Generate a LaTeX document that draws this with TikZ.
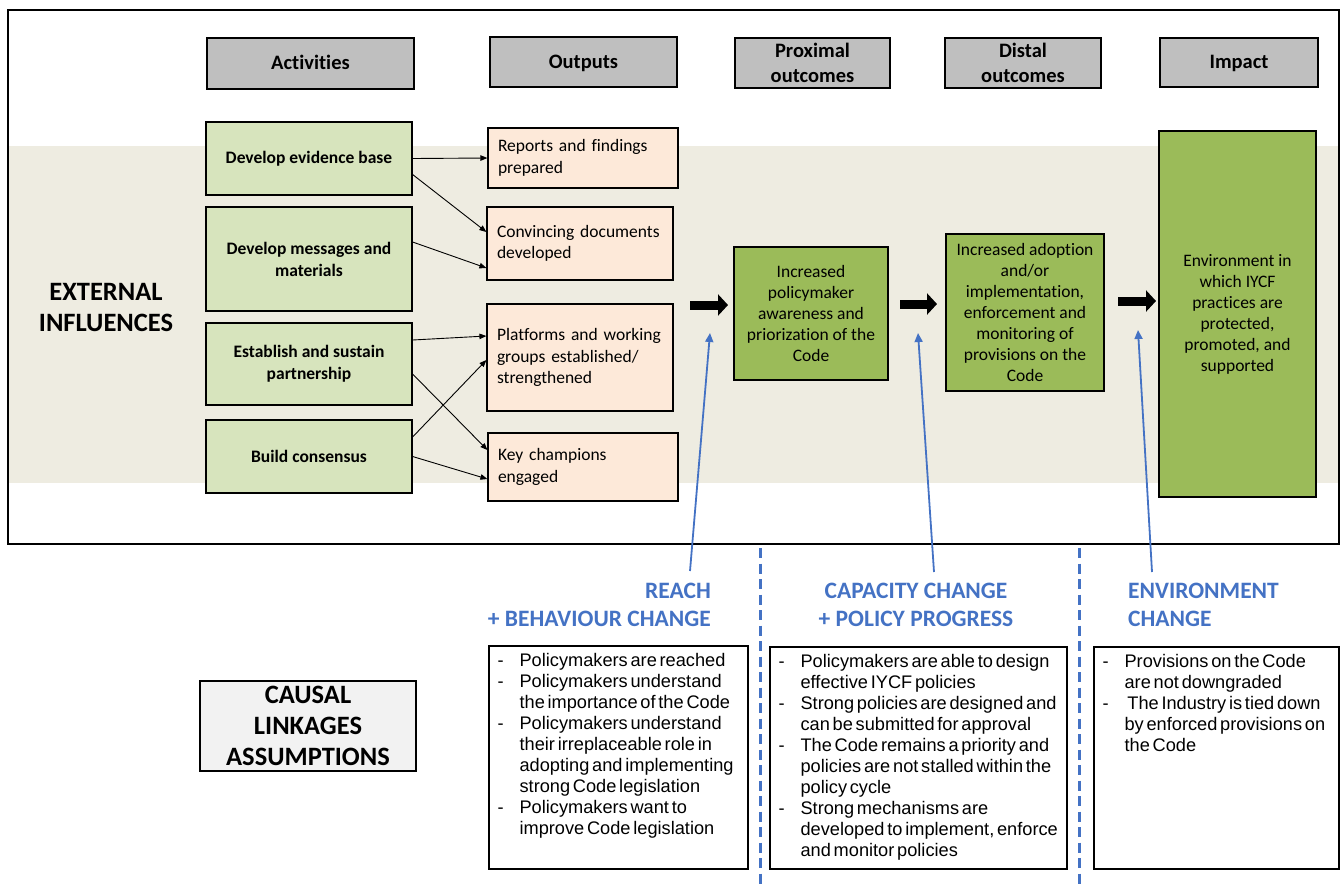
\documentclass[tikz,border=0pt]{standalone}
\usepackage{fontspec}
\setmainfont{Carlito}[Ligatures=NoCommon]
\newfontfamily\asmfont[WordSpace=0.55]{Liberation Sans}
\usetikzlibrary{arrows.meta}
\definecolor{hdgray}{HTML}{BFBFBF}
\definecolor{actgreen}{HTML}{D7E4BD}
\definecolor{outpeach}{HTML}{FDE9D9}
\definecolor{resgreen}{HTML}{9BBB59}
\definecolor{bandtan}{HTML}{EEECE1}
\definecolor{linkblue}{HTML}{4472C4}
\definecolor{causalgray}{HTML}{F2F2F2}
\newcommand{\asmlist}[1]{\asmfont\fontsize{18.2}{21}\selectfont\begin{tabular}{@{}p{22pt}@{}l@{}}#1\end{tabular}}

\begin{document}
\begin{tikzpicture}[x=1pt, y=-1pt, block/.style={rectangle, draw, line width=1.2pt, align=center, inner sep=2pt},
  head/.style={block, fill=hdgray, font=\bfseries\fontsize{20.5}{25}\selectfont},
  onehead/.style={head, text height=14pt, text depth=2pt},
  act/.style={block, fill=actgreen, minimum width=206pt, font=\bfseries\fontsize{17.5}{22}\selectfont},
  outbox/.style={block, fill=outpeach, align=left, inner xsep=10pt, font=\fontsize{17.5}{21.5}\selectfont},
  res/.style={block, fill=resgreen, font=\fontsize{17.5}{21}\selectfont},
  lbl/.style={text=linkblue, inner sep=0pt, font=\bfseries\fontsize{23.5}{28}\selectfont},
  link/.style={draw=linkblue, line width=1.8pt, -{Triangle[length=9pt,width=8pt]}},
  conn/.style={line width=0.9pt, -{Triangle[length=7pt,width=5.5pt]}},
  bigarrow/.style={line width=9pt, -{Triangle[length=10pt,width=21pt]}},]
   \useasboundingbox (0,0) rectangle (1341,887);
   % background band and frame
   \fill[bandtan] (8,146) rectangle (1339,483);
   \draw[line width=1.3pt] (8,10) rectangle (1339,544);

   \node[onehead, minimum width=207pt, minimum height=51pt] (hact) at (310.5,63.5) {Activities};
   \node[onehead, minimum width=187pt, minimum height=50pt] (hout) at (583.5,62) {Outputs};
   \node[head, minimum width=155pt, minimum height=50pt] (hprox) at (812.5,63) {Proximal\\outcomes};
   \node[head, minimum width=156pt, minimum height=50pt] (hdist) at (1023,63) {Distal\\outcomes};
   \node[onehead, minimum width=158pt, minimum height=49pt] (himp) at (1239,62.5) {Impact};

   \node[font=\bfseries\fontsize{26.5}{31}\selectfont, align=center] (ext) at (106,307) {EXTERNAL\\INFLUENCES};

   \node[act, minimum height=73pt] (evid) at (309,158.5) {Develop evidence base};
   \node[act, minimum height=104pt] (msgs) at (309,259) {Develop messages and\\materials};
   \node[act, minimum height=82pt] (part) at (309,364) {Establish and sustain\\partnership};
   \node[act, minimum height=73pt] (cons) at (309,456.5) {Build consensus};

   \node[outbox, text width=170pt, minimum height=60pt] (reports) at (583,158) {Reports and findings\\prepared};
   \node[outbox, text width=166pt, minimum height=73pt] (docs) at (580,243.5) {Convincing documents\\developed};
   \node[outbox, text width=166pt, minimum height=107pt] (platf) at (580,357.5) {Platforms and working\\groups established/\\strengthened};
   \node[outbox, text width=170pt, minimum height=68pt] (champ) at (583,467) {Key champions\\engaged};

   \node[res, minimum width=154pt, minimum height=133pt] (prox) at (811,313.5) {Increased\\policymaker\\awareness and\\priorization of the\\Code};
   \node[res, minimum width=158pt, minimum height=157pt] (dist) at (1025,312.5) {Increased adoption\\and/or\\implementation,\\enforcement and\\monitoring of\\provisions on the\\Code};
   \node[res, minimum width=157pt, minimum height=366pt] (imp) at (1237.5,314) {Environment in\\which IYCF\\practices are\\protected,\\promoted, and\\supported};

   \draw[conn] (evid.east) -- (reports.west);
   \draw[conn] ([yshift=-16pt]evid.east) -- ([yshift=11.5pt]docs.west);
   \draw[conn] ([yshift=17pt]msgs.east) -- ([yshift=-24.5pt]docs.west);
   \draw[conn] ([yshift=24pt]part.east) -- ([yshift=21.5pt]platf.west);
   \draw[conn] ([yshift=-10pt]part.east) -- ([yshift=17pt]champ.west);
   \draw[conn] ([yshift=19.5pt]cons.east) -- ([yshift=-2.5pt]platf.west);
   \draw[conn] (cons.east) -- ([yshift=-12pt]champ.west);

   % block arrows between outcome columns
   \coordinate (big1s) at (690,305); \coordinate (big1e) at (728,305);
   \coordinate (big2s) at (900,304); \coordinate (big2e) at (937,304);
   \coordinate (big3s) at (1118,301); \coordinate (big3e) at (1156,301);
   \draw[bigarrow] (big1s) -- (big1e);
   \draw[bigarrow] (big2s) -- (big2e);
   \draw[bigarrow] (big3s) -- (big3e);

   % causal linkages
   \node[lbl, align=right, anchor=east] (reach) at (711,605) {REACH\\+ BEHAVIOUR CHANGE};
   \node[lbl, align=center] (capac) at (916,605) {CAPACITY CHANGE\\+ POLICY PROGRESS};
   \node[lbl, align=left, anchor=west] (envch) at (1128,605) {ENVIRONMENT\\CHANGE};
   \coordinate (reachtop) at (690,571); \coordinate (reachtip) at (710,333);
   \coordinate (capactop) at (934,572); \coordinate (capactip) at (918,333);
   \coordinate (envchtop) at (1152,572); \coordinate (envchtip) at (1138,330);
   \draw[link] (reachtop) -- (reachtip);
   \draw[link] (capactop) -- (capactip);
   \draw[link] (envchtop) -- (envchtip);
   \draw[linkblue, line width=3pt, dash pattern=on 10pt off 5.5pt] (760,548) -- (760,887);
   \draw[linkblue, line width=3pt, dash pattern=on 10pt off 5.5pt] (1079,548) -- (1079,887);

   \node[block, fill=causalgray, minimum width=216pt, minimum height=90pt, inner sep=0pt, font=\bfseries\fontsize{26.5}{31}\selectfont] (causal) at (308,726) {CAUSAL\\LINKAGES\\ASSUMPTIONS};

   \node[block, minimum width=259pt, minimum height=223pt] (asm1) at (618.5,757.5) {};
   \node[block, minimum width=297pt, minimum height=222pt] (asm2) at (918.5,758) {};
   \node[block, minimum width=245pt, minimum height=222pt] (asm3) at (1216.5,758) {};
   \node[anchor=north west, inner sep=0pt] (asm1txt) at ([xshift=9pt,yshift=-6pt]asm1.north west) {\asmlist{%
     - & Policymakers are reached\\
     - & Policymakers understand\\
       & the importance of the Code\\
     - & Policymakers understand\\
       & their irreplaceable role in\\
       & adopting and implementing\\
       & strong Code legislation\\
     - & Policymakers want to\\
       & improve Code legislation}};
   \node[anchor=north west, inner sep=0pt] (asm2txt) at ([xshift=9pt,yshift=-6pt]asm2.north west) {\asmlist{%
     - & Policymakers are able to design\\
       & effective IYCF policies\\
     - & Strong policies are designed and\\
       & can be submitted for approval\\
     - & The Code remains a priority and\\
       & policies are not stalled within the\\
       & policy cycle\\
     - & Strong mechanisms are\\
       & developed to implement, enforce\\
       & and monitor policies}};
   \node[anchor=north west, inner sep=0pt] (asm3txt) at ([xshift=9pt,yshift=-6pt]asm3.north west) {\asmlist{%
     - & Provisions on the Code\\
       & are not downgraded\\
     - & \ The Industry is tied down\\
       & by enforced provisions on\\
       & the Code}};
\end{tikzpicture}
\end{document}
